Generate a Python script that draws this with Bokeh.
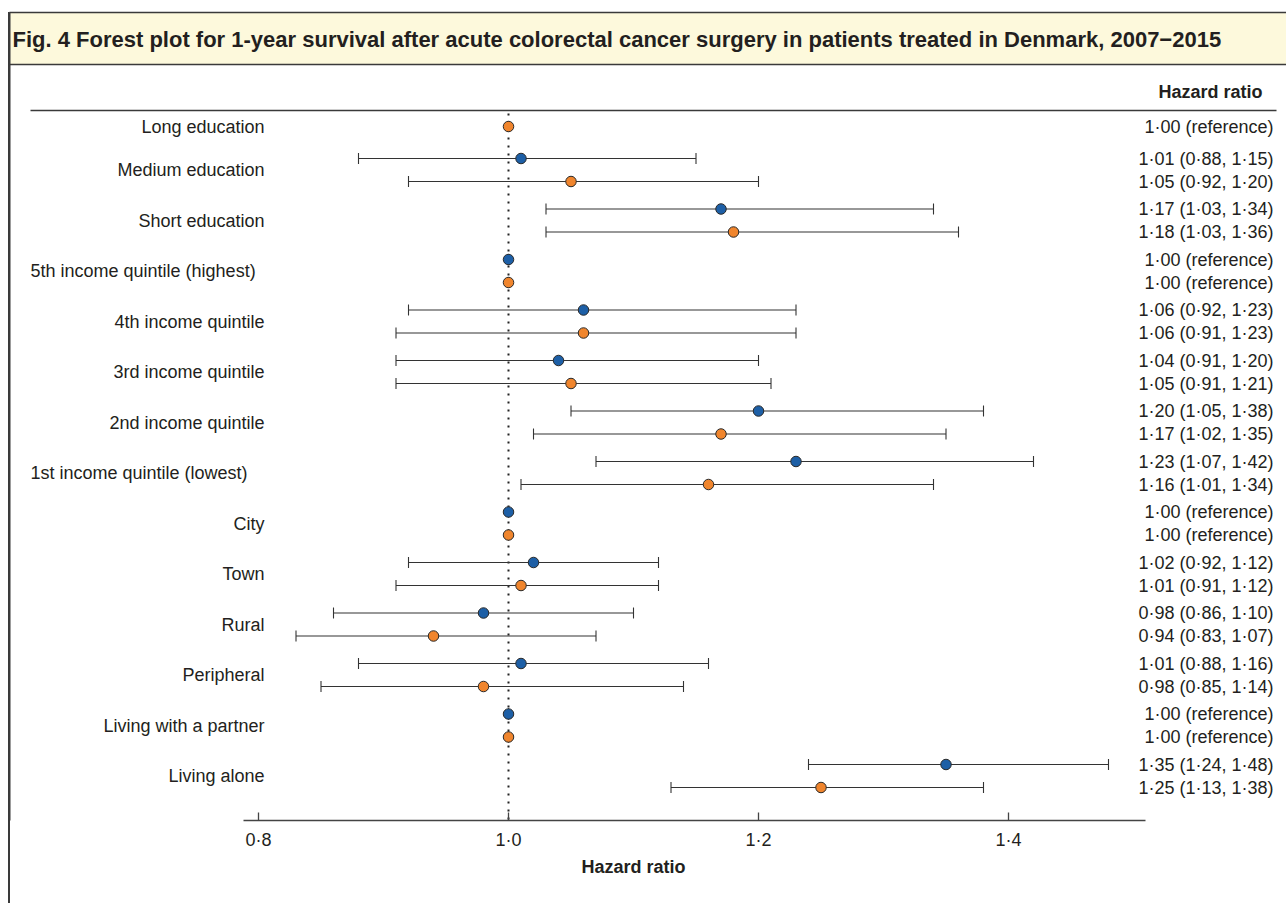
from bokeh.plotting import figure
from bokeh.models import (Range1d, FixedTicker, ColumnDataSource,
                          CustomJSTickFormatter, Title)
from bokeh.core.properties import value
from bokeh.embed import file_html
from bokeh.resources import INLINE

# ---------------- data ----------------
categories = ["Long education", "Medium education", "Short education",
              "5th income quintile (highest)", "4th income quintile",
              "3rd income quintile", "2nd income quintile",
              "1st income quintile (lowest)", "City", "Town", "Rural",
              "Peripheral", "Living with a partner", "Living alone"]

blue_hr = [None, 1.01, 1.17, 1.00, 1.06, 1.04, 1.20, 1.23, 1.00, 1.02, 0.98, 1.01, 1.00, 1.35]
blue_lo = [None, 0.88, 1.03, 1.00, 0.92, 0.91, 1.05, 1.07, 1.00, 0.92, 0.86, 0.88, 1.00, 1.24]
blue_hi = [None, 1.15, 1.34, 1.00, 1.23, 1.20, 1.38, 1.42, 1.00, 1.12, 1.10, 1.16, 1.00, 1.48]

orange_hr = [1.00, 1.05, 1.18, 1.00, 1.06, 1.05, 1.17, 1.16, 1.00, 1.01, 0.94, 0.98, 1.00, 1.25]
orange_lo = [1.00, 0.92, 1.03, 1.00, 0.91, 0.91, 1.02, 1.01, 1.00, 0.91, 0.83, 0.85, 1.00, 1.13]
orange_hi = [1.00, 1.20, 1.36, 1.00, 1.23, 1.21, 1.35, 1.34, 1.00, 1.12, 1.07, 1.14, 1.00, 1.38]

x_ticks = [0.8, 1.0, 1.2, 1.4]
title_text = ("Fig. 4 Forest plot for 1-year survival after acute colorectal cancer "
              "surgery in patients treated in Denmark, 2007\u22122015")
axis_title = "Hazard ratio"
col_header = "Hazard ratio"

# ---------------- layout helpers ----------------
FONT = "Liberation Sans"
TXT = "#231f20"
BLUE = "#1d5fa6"
ORANGE = "#f0852d"
FRAME = "#3a3a3a"
ROW_PX = 50.5          # pixels per group
Y0 = 119.0             # page y of group 0 centre
PX_PER_UNIT = 1250.0   # x pixels per hazard-ratio unit
X_ONE = 508.0          # page x of HR = 1.0


def gy(py):
    """page pixel y -> group units"""
    return (py - Y0) / ROW_PX


def hx(px):
    """page pixel x -> hazard ratio units"""
    return 1.0 + (px - X_ONE) / PX_PER_UNIT


def fmt(v):
    return f"{v:.2f}".replace(".", "\u00b7")


OFF = 11.5 / ROW_PX
SINGLE_OFF = 7 / ROW_PX
CAP = 5.5 / ROW_PX

W, H = 1286, 903
p = figure(width=W, height=H,
           x_range=Range1d(hx(0), hx(W)), y_range=Range1d(gy(820), gy(0)),
           output_backend="svg", toolbar_location=None, y_axis_location=None,
           min_border_left=0, min_border_right=0, min_border_top=0,
           min_border_bottom=H - 820)
p.outline_line_color = None
p.grid.visible = False
p.background_fill_color = None
p.border_fill_color = None
p.styles = {"background-color": "white",
            "background-image": "linear-gradient(#3a3a3a, #3a3a3a)",
            "background-position": "8px 12px",
            "background-size": "2px 100%",
            "background-repeat": "no-repeat"}

# frame and title band
p.quad(left=[hx(9)], right=[hx(1400)], top=[gy(12)], bottom=[gy(64)],
       fill_color="#fdf9dc", line_color=None)
p.segment(x0=[hx(9), hx(9)], x1=[hx(1400), hx(1400)], y0=[gy(12), gy(64)],
          y1=[gy(12), gy(64)], line_color=FRAME, line_width=1.6)
p.segment(x0=[hx(9)], x1=[hx(9)], y0=[gy(12)], y1=[gy(1000)],
          line_color=FRAME, line_width=2)
p.text(x=[hx(12)], y=[gy(38.5)], text=[title_text], text_font=value(FONT),
       text_font_size=value("22px"), text_font_style="bold",
       text_baseline="middle", text_align="left", text_color=TXT)

# header
p.segment(x0=[hx(30)], x1=[hx(1276)], y0=[gy(110)], y1=[gy(110)],
          line_color=FRAME, line_width=1.6)
p.text(x=[hx(1262)], y=[gy(91)], text=[col_header], text_font=value(FONT),
       text_font_size=value("18px"), text_font_style="bold",
       text_baseline="middle", text_align="right", text_color=TXT)

# reference line
p.segment(x0=[1.0], x1=[1.0], y0=[gy(113)], y1=[gy(820)],
          line_color="#222222", line_width=2, line_dash="2 6")

# rows
lab_y, lab_t = [], []
rows = {"blue": dict(x=[], y=[], lo=[], hi=[]), "orange": dict(x=[], y=[], lo=[], hi=[])}
rt_y, rt_t = [], []
for i, cat in enumerate(categories):
    single = blue_hr[i] is None
    lab_y.append(i + SINGLE_OFF if single else i)
    lab_t.append(cat)
    for name, hr, lo, hi, off in (("blue", blue_hr, blue_lo, blue_hi, -OFF),
                                  ("orange", orange_hr, orange_lo, orange_hi, OFF)):
        if hr[i] is None:
            continue
        yy = i + (SINGLE_OFF if single else off)
        d = rows[name]
        d["x"].append(hr[i]); d["y"].append(yy); d["lo"].append(lo[i]); d["hi"].append(hi[i])
        rt_y.append(yy)
        if lo[i] == hi[i] == hr[i]:
            rt_t.append(f"{fmt(hr[i])} (reference)")
        else:
            rt_t.append(f"{fmt(hr[i])} ({fmt(lo[i])}, {fmt(hi[i])})")

left_src = ColumnDataSource(dict(
    x=[hx(30) if len(t) > 26 else hx(264) for t in lab_t],
    y=lab_y, text=lab_t,
    align=["left" if len(t) > 26 else "right" for t in lab_t]))
p.text(x="x", y="y", text="text", text_align="align", source=left_src,
       text_font=value(FONT), text_font_size=value("18px"),
       text_baseline="middle", text_color=TXT)

for name, col in (("blue", BLUE), ("orange", ORANGE)):
    d = rows[name]
    src = ColumnDataSource(dict(x=d["x"], y=d["y"], lo=d["lo"], hi=d["hi"],
                                ct=[v - CAP for v in d["y"]], cb=[v + CAP for v in d["y"]]))
    p.segment(x0="lo", x1="hi", y0="y", y1="y", source=src, line_color="#333333", line_width=1.1)
    p.segment(x0="lo", x1="lo", y0="ct", y1="cb", source=src, line_color="#333333", line_width=1.1)
    p.segment(x0="hi", x1="hi", y0="ct", y1="cb", source=src, line_color="#333333", line_width=1.1)
    p.scatter(x="x", y="y", source=src, size=10.5, fill_color=col,
              line_color="#2a2a2a", line_width=1)

p.text(x=[hx(1273)] * len(rt_y), y=rt_y, text=rt_t, text_font=value(FONT),
       text_font_size=value("18px"), text_baseline="middle", text_align="right",
       text_color=TXT)

# x axis
ax = p.xaxis[0]
ax.ticker = FixedTicker(ticks=x_ticks)
ax.formatter = CustomJSTickFormatter(code="return tick.toFixed(1).replace('.', '\u00b7')")
ax.bounds = (hx(243), hx(1145))
ax.axis_line_color = "#444444"
ax.axis_line_width = 1.5
ax.major_tick_in = 8
ax.major_tick_out = 0
ax.major_tick_line_color = "#444444"
ax.major_tick_line_width = 1.3
ax.minor_tick_line_color = None
ax.major_label_standoff = 9
ax.major_label_text_font = FONT
ax.major_label_text_font_size = "18px"
ax.major_label_text_color = TXT

p.add_layout(Title(text=axis_title, align="left", offset=581, standoff=5,
                   text_font=FONT, text_font_size="18px", text_font_style="bold",
                   text_color=TXT), "below")

open("out.html", "w").write(file_html(p, INLINE))
